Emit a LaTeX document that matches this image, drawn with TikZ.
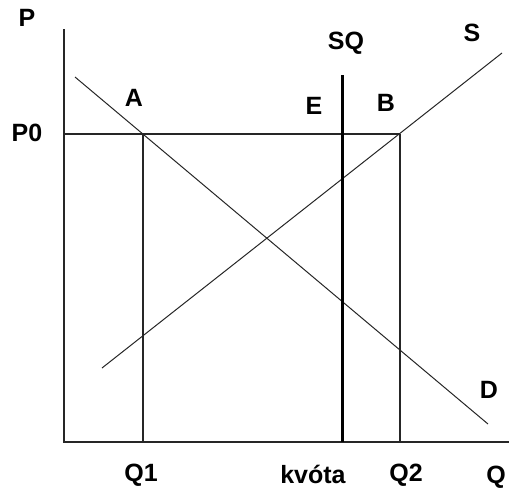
\documentclass[tikz,border=0pt]{standalone}
\usepackage{fontspec}
\setmainfont{Liberation Sans}
\usetikzlibrary{positioning}
\begin{document}
\begin{tikzpicture}[
			x=1pt, y=-1pt,
			lbl/.style={font=\fontsize{25}{28}\selectfont\bfseries, inner sep=0pt},
			axis/.style={line width=1.1pt, draw=black!85},
			curve/.style={line width=1pt, draw=black!85},
			quota/.style={line width=3pt},
			]
			\useasboundingbox (0,0) rectangle (509,488);
			% axes
			\coordinate (O) at (64,442);
			\coordinate (ytop) at (64,29);
			\coordinate (xend) at (509,442);
			\draw[axis] (ytop) -- (O) -- (xend);
			% demand and supply
			\coordinate (d1) at (75,77);
			\coordinate (d2) at (488,424);
			\coordinate (s1) at (102,368);
			\coordinate (s2) at (502,53);
			\draw[curve] (d1) -- (d2);
			\draw[curve] (s1) -- (s2);
			% price P0 and the points A, B
			\coordinate (p0) at (64,134);
			\coordinate (A) at (143,134);
			\coordinate (B) at (400,134);
			\coordinate (q1) at (143,442);
			\coordinate (q2) at (400,443);
			\draw[axis] (p0) -- (B);
			\draw[axis] (A) -- (q1);
			\draw[axis] (B) -- (q2);
			% quota
			\coordinate (sqtop) at (342,75);
			\coordinate (sqbot) at (342,442);
			\draw[quota] (sqtop) -- (sqbot);
			% labels
			\node[lbl] (lP) at (27,18) {P};
			\node[lbl] (lP0) at (27,133) {P0};
			\node[lbl] (lA) at (134,98) {A};
			\node[lbl] (lE) at (314,106) {E};
			\node[lbl] (lB) at (386,103) {B};
			\node[lbl] (lSQ) at (346,43) {SQ};
			\node[lbl] (lS) at (472,33) {S};
			\node[lbl] (lD) at (489,390) {D};
			\node[lbl, anchor=base] (lQ1) at (141,481) {Q1};
			\node[lbl, anchor=base] (lkv) at (313,483) {kvóta};
			\node[lbl, anchor=base] (lQ2) at (406,481) {Q2};
			\node[lbl, anchor=base] (lQ) at (496,483) {Q};
		\end{tikzpicture}
\end{document}
